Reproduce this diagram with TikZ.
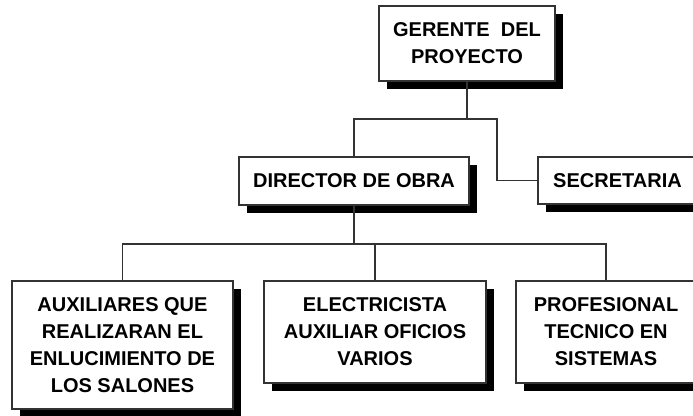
\documentclass[tikz,border=0pt]{standalone}
\usepackage{fontspec}
\setmainfont{Liberation Sans}
\usetikzlibrary{calc, shadows}

\tikzset{
  cargo/.style={draw={rgb,255:red,51;green,51;blue,51}, line width=1.8pt, fill=white,
    align=center, inner sep=0pt, font=\bfseries\fontsize{20}{27}\selectfont,
    drop shadow={shadow xshift=8pt, shadow yshift=-8pt, opacity=1, fill=black}},
  enlace/.style={draw={rgb,255:red,51;green,51;blue,51}, line width=1.8pt}
}

\begin{document}
\begin{tikzpicture}[x=1pt,y=1pt,yscale=-1,xscale=1]
\useasboundingbox (0,0) rectangle (693,415);
\clip (0,0) rectangle (693,415);

% Top level
\node [cargo, minimum width=176pt, minimum height=75pt] (ger) at (467,43.5) {GERENTE\ \ DEL\\PROYECTO};
% Second level
\node [cargo, minimum width=230pt, minimum height=48pt] (dir) at (354,181) {DIRECTOR DE OBRA};
\node [cargo, minimum width=159pt, minimum height=47pt] (sec) at (617.5,180.5) {SECRETARIA};
% Third level
\node [cargo, minimum width=221pt, minimum height=128pt] (aux) at (122.5,345) {AUXILIARES QUE\\REALIZARAN EL\\ENLUCIMIENTO DE\\LOS SALONES};
\node [cargo, minimum width=222pt, minimum height=102pt] (elec) at (375,332) {ELECTRICISTA\\AUXILIAR OFICIOS\\VARIOS};
\node [cargo, minimum width=180pt, minimum height=102pt] (prof) at (606,332) {PROFESIONAL\\TECNICO EN\\SISTEMAS};

% Connectors
\draw [enlace] (ger.south) -- ++(0,37) coordinate (gbus);
\draw [enlace] (dir.north) |- ($(gbus)+(30,0)$) |- (sec.west);
\draw [enlace] (dir.south) -- ++(0,38) coordinate (dbus);
\draw [enlace] (aux.north) |- (dbus) -| (prof.north);
\draw [enlace] (elec.north) -- (elec.north |- dbus);

\end{tikzpicture}
\end{document}
